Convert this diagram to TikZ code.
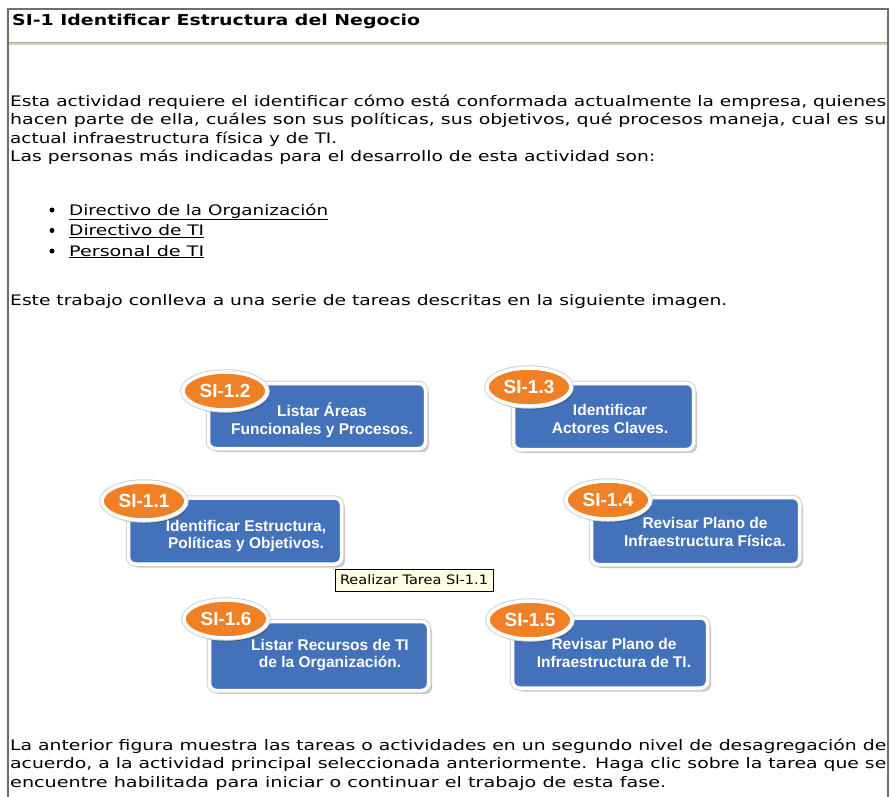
\documentclass[tikz,border=0pt]{standalone}
\usepackage{fontspec}
\setmainfont{DejaVu Sans}
\newfontfamily\arialf{Liberation Sans}
\usetikzlibrary{shadows,shapes.geometric}
\definecolor{taskblue}{RGB}{68,114,186}
\definecolor{tagorange}{RGB}{240,128,38}
\definecolor{tipyellow}{RGB}{255,255,225}
\definecolor{framegray}{RGB}{110,110,110}
\definecolor{rulekhaki}{RGB}{215,210,170}
\newcommand\fitw[2]{\resizebox{#1pt}{\height}{#2}}
\begin{document}
\begin{tikzpicture}[x=1pt,y=-1pt,
  bodytxt/.style={anchor=base west,inner sep=0pt,font=\fontsize{14.5}{16}\selectfont},
  titletxt/.style={anchor=base west,inner sep=0pt,font=\bfseries\fontsize{15}{17}\selectfont},
  bulletdot/.style={circle,fill=black,inner sep=0pt,minimum size=5pt},
  taskbox/.style={rectangle,rounded corners=7pt,fill=taskblue,draw=white,line width=3.5pt,
     drop shadow={shadow xshift=3.5pt,shadow yshift=-3.5pt,fill=black,opacity=0.22},
     preaction={draw=gray!35,line width=5.5pt},inner sep=0pt},
  tasktxt/.style={text=white,font=\arialf\bfseries\fontsize{15.5}{17.5}\selectfont,align=center,inner sep=0pt},
  tag/.style={ellipse,fill=tagorange,draw=white,line width=3.5pt,
     drop shadow={shadow xshift=2pt,shadow yshift=-3.5pt,fill=black,opacity=0.25},
     preaction={draw=gray!35,line width=5.5pt},
     text=white,font=\arialf\bfseries\fontsize{19}{21}\selectfont,inner sep=0pt,
     minimum width=84,minimum height=38},
  tip/.style={draw=black,line width=0.8pt,fill=tipyellow,inner sep=0pt,
     font=\fontsize{13}{15}\selectfont,minimum width=158,minimum height=22}
]
\useasboundingbox (0,0) rectangle (891,796);
\fill[white] (0,0) rectangle (891,796);

% title
\node[titletxt] (title) at (12,25.5) {\fitw{408}{SI-1 Identificar Estructura del Negocio}};

% paragraph 1
\node[bodytxt] (p1) at (10,106) {\fitw{876}{Esta actividad requiere el identificar cómo está conformada actualmente la empresa, quienes}};
\node[bodytxt] (p2) at (10,124.5) {\fitw{876}{hacen parte de ella, cuáles son sus políticas, sus objetivos, qué procesos maneja, cual es su}};
\node[bodytxt] (p3) at (10,143) {\fitw{327}{actual infraestructura física y de TI.}};
\node[bodytxt] (p4) at (10,161.5) {\fitw{645}{Las personas más indicadas para el desarrollo de esta actividad son:}};

% bullets
\node[bulletdot] (d1) at (52,210) {};
\node[bulletdot] (d2) at (52,230.5) {};
\node[bulletdot] (d3) at (52,251) {};
\node[bodytxt] (b1) at (69,215) {\fitw{259}{\underline{Directivo de la Organización}}};
\node[bodytxt] (b2) at (69,235.5) {\fitw{135}{\underline{Directivo de TI}}};
\node[bodytxt] (b3) at (69,256) {\fitw{135}{\underline{Personal de TI}}};

\node[bodytxt] (p5) at (10,305) {\fitw{717}{Este trabajo conlleva a una serie de tareas descritas en la siguiente imagen.}};

% task boxes
\node[taskbox,minimum width=217,minimum height=65] (box12) at (317,416) {};
\node[taskbox,minimum width=180,minimum height=66] (box13) at (603.5,416.5) {};
\node[taskbox,minimum width=213,minimum height=66] (box11) at (235,531) {};
\node[taskbox,minimum width=208,minimum height=67] (box14) at (695.5,531) {};
\node[taskbox,minimum width=219,minimum height=69] (box16) at (319,656) {};
\node[taskbox,minimum width=195,minimum height=70] (box15) at (610,653) {};

\node[tasktxt] (txt12) at (322,420) {Listar Áreas\\Funcionales y Procesos.};
\node[tasktxt] (txt13) at (610,419) {Identificar\\Actores Claves.};
\node[tasktxt] (txt11) at (246,536) {Identificar Estructura,\\Políticas y Objetivos.};
\node[tasktxt] (txt14) at (705,532) {Revisar Plano de\\Infraestructura Física.};
\node[tasktxt] (txt16) at (330,655) {Listar Recursos de TI\\de la Organización.};
\node[tasktxt] (txt15) at (614,653) {Revisar Plano de\\Infraestructura de TI.};

\node[tag] (tag12) at (225,391) {SI-1.2};
\node[tag] (tag13) at (529,387) {SI-1.3};
\node[tag] (tag11) at (144,501) {SI-1.1};
\node[tag] (tag14) at (608,500) {SI-1.4};
\node[tag] (tag16) at (226,619) {SI-1.6};
\node[tag] (tag15) at (530,620) {SI-1.5};

% tooltip
\node[tip] (tooltip) at (414,580) {\fitw{148}{Realizar Tarea SI-1.1}};

% paragraph 2
\node[bodytxt] (p6) at (10,750) {\fitw{876}{La anterior figura muestra las tareas o actividades en un segundo nivel de desagregación de}};
\node[bodytxt] (p7) at (10,768.5) {\fitw{876}{acuerdo, a la actividad principal seleccionada anteriormente. Haga clic sobre la tarea que se}};
\node[bodytxt] (p8) at (10,787) {\fitw{656}{encuentre habilitada para iniciar o continuar el trabajo de esta fase.}};

% frame
\draw[rulekhaki,line width=1.2pt] (8,44) -- (888,44);
\draw[gray!70,line width=1.2pt] (8,42.5) -- (888,42.5);
\draw[framegray,line width=2pt] (8,797) -- (8,9) -- (888,9) -- (888,797);
\end{tikzpicture}
\end{document}
